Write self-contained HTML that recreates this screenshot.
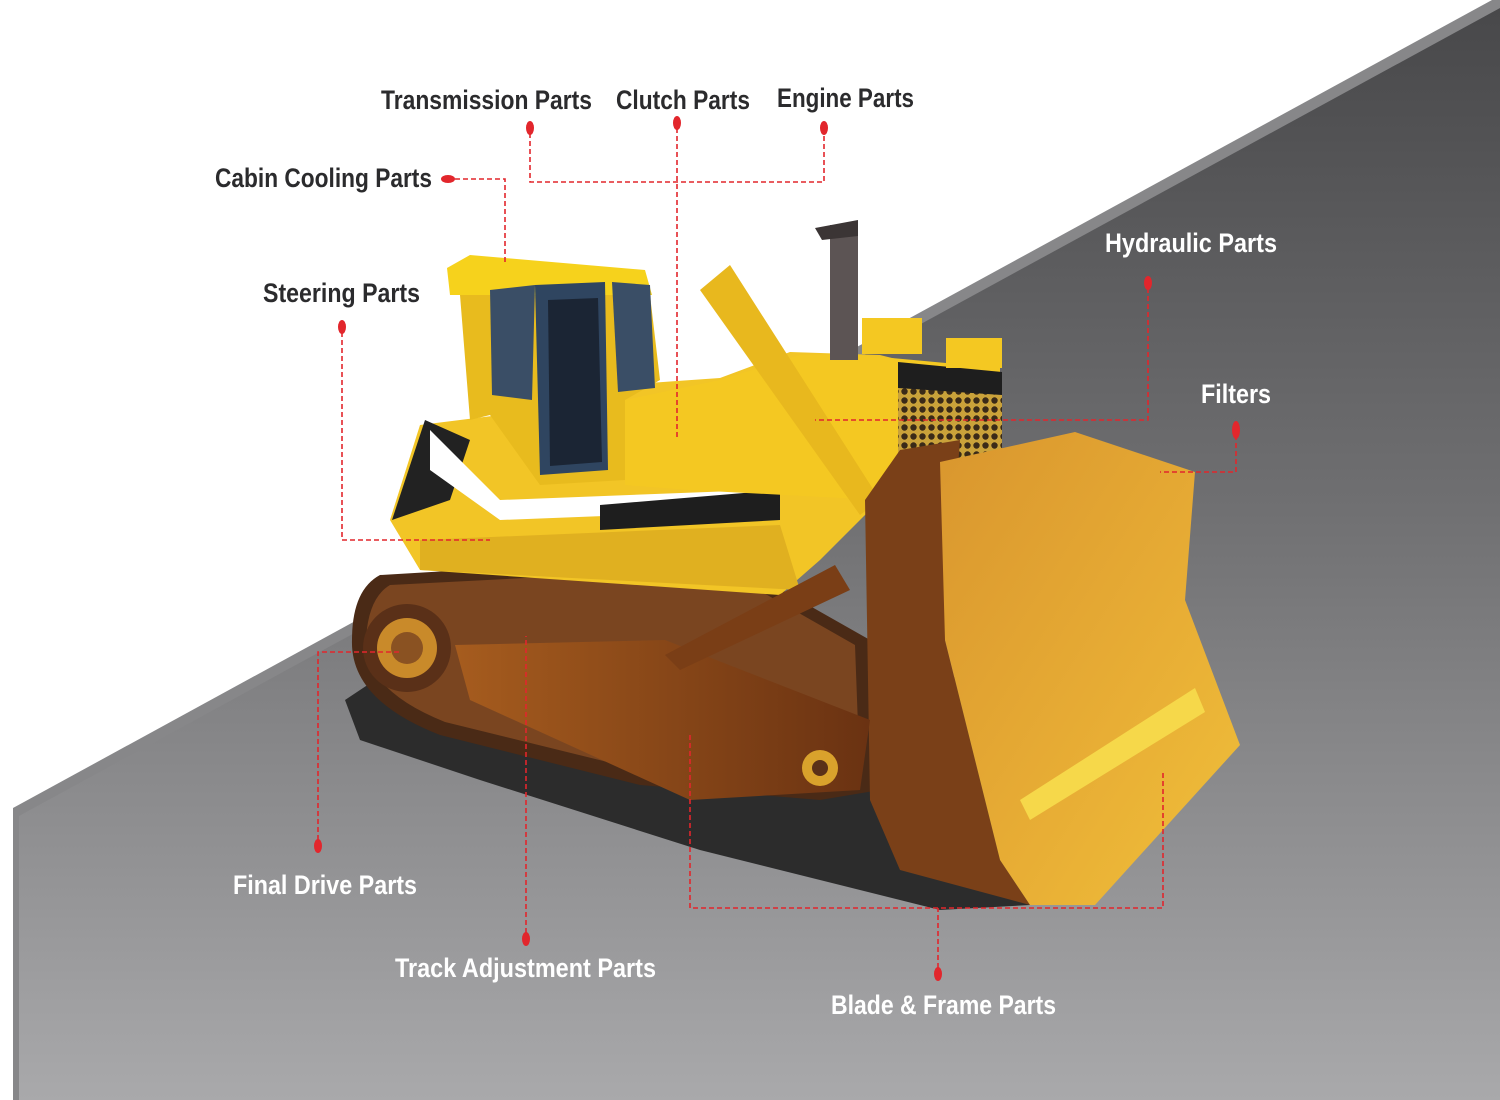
<!DOCTYPE html>
<html><head><meta charset="utf-8"><style>
html,body{margin:0;padding:0;background:#fff;}
svg{display:block}
.lb{font-family:"Liberation Sans",sans-serif;font-weight:bold;font-size:27px}
.d{fill:#2b2b2d}.w{fill:#fff}
.ln{stroke:#e2262c;stroke-width:1.6;stroke-dasharray:5 3;fill:none}
.mk{fill:#e2262c}
</style></head><body>
<svg width="1500" height="1100" viewBox="0 0 1500 1100" xmlns="http://www.w3.org/2000/svg">
<defs>
<linearGradient id="bg" x1="0" y1="0" x2="0" y2="1">
<stop offset="0" stop-color="#48484a"/><stop offset="0.45" stop-color="#6f6f71"/><stop offset="1" stop-color="#a9a9ab"/></linearGradient>
<linearGradient id="bl" x1="0" y1="0" x2="1" y2="1">
<stop offset="0" stop-color="#d9962e"/><stop offset="0.6" stop-color="#e8ae35"/><stop offset="1" stop-color="#f0c03a"/></linearGradient>
<linearGradient id="arm" x1="0" y1="0" x2="1" y2="0">
<stop offset="0" stop-color="#a65c1e"/><stop offset="1" stop-color="#6a3212"/></linearGradient>
<pattern id="dots" width="9" height="9" patternUnits="userSpaceOnUse"><rect width="9" height="9" fill="#caa23a"/><circle cx="4.5" cy="4.5" r="3.2" fill="#3a2a18"/></pattern>
</defs>
<rect width="1500" height="1100" fill="#fff"/>
<polygon points="13,808 1492,0 1500,0 1500,1100 13,1100" fill="#878789"/>
<polygon points="19,816 1500,8 1500,1100 19,1100" fill="url(#bg)"/>

<polygon points="345,700 420,650 880,640 1000,700 1010,870 1030,905 940,910 700,850 480,780 360,740" fill="#2c2c2c"/>
<path d="M380,575 L720,555 L870,640 L880,790 L820,800 L640,785 L440,735 Q350,700 352,640 Q352,590 380,575 Z" fill="#4a2a16"/>
<path d="M390,585 L720,568 L855,645 L860,780 L640,770 L445,722 Q365,690 366,640 Q368,598 390,585 Z" fill="#7a4520"/>
<circle cx="407" cy="648" r="44" fill="#5a3018"/><circle cx="407" cy="648" r="30" fill="#c98a2a"/><circle cx="407" cy="648" r="16" fill="#8a5222"/>
<polygon points="390,520 420,425 500,415 620,385 720,378 790,352 880,355 900,360 1000,368 1000,500 880,500 820,560 780,595 420,570" fill="#f2c526"/>
<polygon points="392,520 425,420 470,440 450,500" fill="#222"/>
<polygon points="430,430 500,500 760,490 760,510 500,520 430,470" fill="#fff"/>
<polygon points="600,505 780,490 780,520 600,530" fill="#1e1e1e"/>
<polygon points="420,540 780,525 800,590 420,570" fill="#e0b020"/>
<polygon points="447,268 470,255 645,270 652,295 450,295" fill="#f6d21c"/>
<polygon points="460,295 650,295 660,380 625,400 625,480 540,485 490,415 470,420" fill="#e8bb1e"/>
<polygon points="490,290 535,285 532,400 492,395" fill="#3a4e66"/>
<polygon points="535,285 605,282 608,470 540,475" fill="#2f4560"/>
<polygon points="548,300 598,298 602,462 550,466" fill="#1b2534"/>
<polygon points="612,282 650,285 655,388 618,392" fill="#3a4e66"/>
<polygon points="625,400 720,380 800,355 860,355 1000,368 1000,480 880,500 690,490 625,485" fill="#f4c822"/>
<rect x="898" y="388" width="104" height="80" fill="url(#dots)"/>
<polygon points="898,362 1002,372 1002,395 898,388" fill="#1e1e1e"/>
<rect x="862" y="318" width="60" height="36" fill="#f4c822"/><rect x="946" y="338" width="56" height="30" fill="#f4c822"/>
<rect x="830" y="225" width="28" height="135" fill="#5c5454"/><polygon points="815,228 858,220 858,236 822,240" fill="#3b3535"/>
<polygon points="700,290 730,265 880,500 860,515" fill="#e8b81e"/>
<polygon points="865,500 900,450 960,440 945,640 1000,860 1030,905 900,870 870,800" fill="#7a4018"/>
<polygon points="455,645 665,640 870,720 860,790 690,800 470,700" fill="url(#arm)"/>
<polygon points="665,655 835,565 850,590 680,670" fill="#7a3e16"/>
<circle cx="820" cy="768" r="18" fill="#d9a22c"/><circle cx="820" cy="768" r="8" fill="#5a3018"/>
<polygon points="940,462 1075,432 1195,472 1185,600 1240,745 1095,905 1030,905 1000,860 945,640" fill="url(#bl)"/>
<polygon points="1020,800 1195,688 1205,712 1030,820" fill="#f6d84a"/>

<g class="ln">
<path d="M530,133 V182 H824 V133"/>
<path d="M677,128 V437"/>
<path d="M455,179 H505 V265"/>
<path d="M342,332 V540 H490"/>
<path d="M1148,288 V420 H815"/>
<path d="M1236,435 V472 H1160"/>
<path d="M318,840 V652 H400"/>
<path d="M526,933 V636"/>
<path d="M938,968 V908 M690,735 V908 H1163 V770"/>
</g>
<g class="mk">
<ellipse cx="530" cy="128" rx="4" ry="7"/><ellipse cx="677" cy="123" rx="4" ry="7"/><ellipse cx="824" cy="128" rx="4" ry="7"/>
<ellipse cx="448" cy="179" rx="7" ry="4"/><ellipse cx="342" cy="327" rx="4" ry="7"/><ellipse cx="1148" cy="283" rx="4" ry="7"/>
<ellipse cx="1236" cy="430" rx="4" ry="9"/><ellipse cx="318" cy="846" rx="4" ry="7"/><ellipse cx="526" cy="939" rx="4" ry="7"/>
<ellipse cx="938" cy="974" rx="4" ry="7"/>
</g>

<text class="lb d" x="381" y="109" textLength="211" lengthAdjust="spacingAndGlyphs">Transmission Parts</text>
<text class="lb d" x="616" y="109" textLength="134" lengthAdjust="spacingAndGlyphs">Clutch Parts</text>
<text class="lb d" x="777" y="107" textLength="137" lengthAdjust="spacingAndGlyphs">Engine Parts</text>
<text class="lb d" x="215" y="187" textLength="217" lengthAdjust="spacingAndGlyphs">Cabin Cooling Parts</text>
<text class="lb d" x="263" y="302" textLength="157" lengthAdjust="spacingAndGlyphs">Steering Parts</text>
<text class="lb w" x="1105" y="252" textLength="172" lengthAdjust="spacingAndGlyphs">Hydraulic Parts</text>
<text class="lb w" x="1201" y="403" textLength="70" lengthAdjust="spacingAndGlyphs">Filters</text>
<text class="lb w" x="233" y="894" textLength="184" lengthAdjust="spacingAndGlyphs">Final Drive Parts</text>
<text class="lb w" x="395" y="977" textLength="261" lengthAdjust="spacingAndGlyphs">Track Adjustment Parts</text>
<text class="lb w" x="831" y="1014" textLength="225" lengthAdjust="spacingAndGlyphs">Blade &amp; Frame Parts</text>
</svg>
</body></html>
